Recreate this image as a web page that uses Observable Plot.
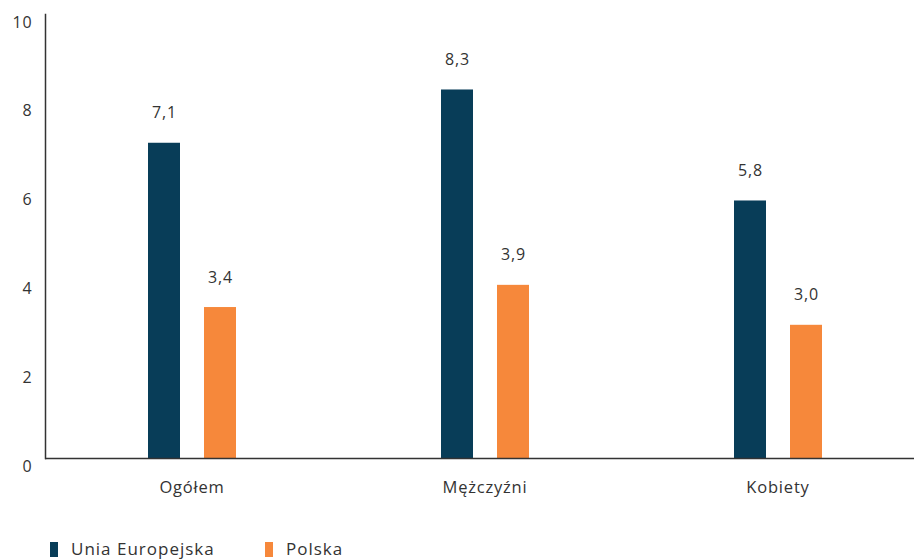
<!DOCTYPE html>
<html><head><meta charset="utf-8">
<script src="https://cdn.jsdelivr.net/npm/d3@7"></script>
<script src="https://cdn.jsdelivr.net/npm/@observablehq/plot@0.6"></script>
<style>
body{margin:0;background:#fff;font-family:"Open Sans",sans-serif;}
#legend{position:relative;height:39px;}
.item{position:absolute;top:19px;display:flex;align-items:center;font-size:17px;line-height:20px;letter-spacing:1px;color:#333;}
.sw{width:8px;height:15px;margin-right:13px;}
svg text{letter-spacing:0.8px;}
</style>
</head><body>
<div id="chart"></div>
<div id="legend"></div>
<script>
const categories = ["Ogółem", "Mężczyźni", "Kobiety"];
const seriesNames = ["Unia Europejska", "Polska"];
const euValues = [7.1, 8.3, 5.8];
const plValues = [3.4, 3.9, 3.0];
const yTicks = [0, 2, 4, 6, 8, 10];
const colors = ["#083d58", "#f6883b"];

const data = [];
categories.forEach((c, i) => {
  data.push({cat: c, series: seriesNames[0], value: euValues[i]});
  data.push({cat: c, series: seriesNames[1], value: plValues[i]});
});
const fmt = v => v.toFixed(1).replace(".", ",");

const H = 520;
const plot = Plot.plot({
  width: 914,
  height: H,
  marginTop: 14,
  marginBottom: H - 458,
  marginLeft: 44,
  marginRight: 0,
  style: {fontFamily: "'Open Sans', sans-serif", fontSize: "16px", color: "#333"},
  fx: {domain: categories, range: [44, 925], padding: 0, label: null},
  x: {domain: seriesNames, paddingInner: 0.4286, paddingOuter: 1.8, axis: null},
  y: {domain: [0, 10], label: null},
  color: {domain: seriesNames, range: colors},
  marks: [
    Plot.axisY({ticks: yTicks, tickSize: 0, tickPadding: 13, dy: 8, fontSize: 16}),
    Plot.frame({anchor: "left", facetAnchor: "left", stroke: "#333", strokeWidth: 1.5}),
    Plot.axisFx({anchor: "bottom", tickSize: 0, tickPadding: 23, fontSize: 16.5, label: null}),
    Plot.barY(data, {fx: "cat", x: "series", y: "value", fill: "series"}),
    Plot.text(data, {fx: "cat", x: "series", y: "value", text: d => fmt(d.value), dy: -30, fontSize: 16, fill: "#333"}),
    Plot.ruleY([0], {stroke: "#333", strokeWidth: 1.5})
  ]
});
document.getElementById("chart").appendChild(plot);

const legend = document.getElementById("legend");
const lefts = [50, 265];
seriesNames.forEach((s, i) => {
  const it = document.createElement("div");
  it.className = "item";
  it.style.left = lefts[i] + "px";
  const sw = document.createElement("div");
  sw.className = "sw";
  sw.style.background = colors[i];
  it.appendChild(sw);
  const t = document.createElement("span");
  t.textContent = s;
  it.appendChild(t);
  legend.appendChild(it);
});
</script>
</body></html>
